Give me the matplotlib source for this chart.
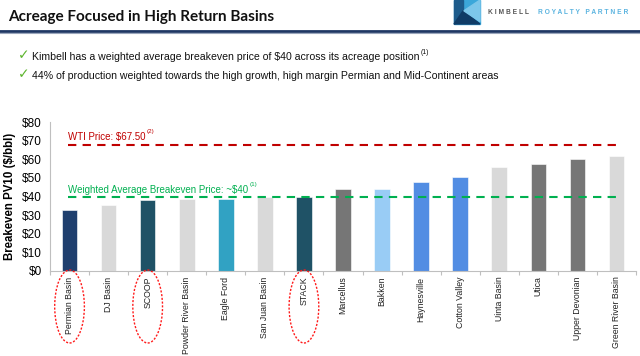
import matplotlib
matplotlib.use("Agg")
import matplotlib.pyplot as plt
import numpy as np
from matplotlib.patches import Ellipse, Polygon, Rectangle
from matplotlib.transforms import blended_transform_factory

# ---------------------------------------------------------------------------
# data
# ---------------------------------------------------------------------------
basins = ["Permian Basin", "DJ Basin", "SCOOP", "Powder River Basin", "Eagle Ford",
          "San Juan Basin", "STACK", "Marcellus", "Bakken", "Haynesville",
          "Cotton Valley", "Uinta Basin", "Utica", "Upper Devonian", "Green River Basin"]
breakeven = [33.0, 35.2, 37.9, 38.6, 38.6, 39.5, 39.8, 43.8, 43.9, 47.7,
             50.4, 55.9, 57.2, 59.9, 61.5]
bar_colors = ["#1F3F6E", "#D9D9D9", "#1F5266", "#D9D9D9", "#31A2C3",
              "#D9D9D9", "#1F5266", "#767676", "#99CCF5", "#528DE3",
              "#528DE3", "#D9D9D9", "#767676", "#767676", "#D9D9D9"]
highlighted = ["Permian Basin", "SCOOP", "STACK"]

wti_price = 67.50
avg_breakeven = 40.0
y_ticks = [0, 10, 20, 30, 40, 50, 60, 70, 80]

title = "Acreage Focused in High Return Basins"
bullets = ["Kimbell has a weighted average breakeven price of $40 across its acreage position",
           "44% of production weighted towards the high growth, high margin Permian and Mid-Continent areas"]
bullet_notes = ["(1)", ""]

FONT = "Liberation Sans"
W, H = 640, 356
fig = plt.figure(figsize=(W / 100, H / 100), dpi=100)
fig.patch.set_facecolor("white")

# ---------------------------------------------------------------------------
# header
# ---------------------------------------------------------------------------
fig.text(8 / W, 1 - 17.5 / H, title, fontsize=11.0, fontweight="bold",
         family="Lato", color="#111111", va="center", ha="left")
fig.add_artist(plt.Line2D([0, 1], [1 - 30.5 / H] * 2, color="#1F3864", lw=2.0))
fig.add_artist(plt.Line2D([0, 1], [1 - 32.5 / H] * 2, color="#9AA6BC", lw=0.8))

# logo
lx0, ly0, lw_, lh_ = 454 / W, 1 - 24 / H, 26 / W, 24 / H
def _pt(u, v):
    return (lx0 + u * lw_, ly0 + v * lh_)
fig.add_artist(Rectangle((lx0, ly0), lw_, lh_, color="#3BA7DA", transform=fig.transFigure))
fig.add_artist(Polygon([_pt(0, 0), _pt(0, 1), _pt(0.35, 1), _pt(0.35, 0.55)],
                       color="#1D5C8C", transform=fig.transFigure))
fig.add_artist(Polygon([_pt(0.35, 0.55), _pt(0, 0), _pt(1, 0)],
                       color="#0F3B66", transform=fig.transFigure))
fig.add_artist(Polygon([_pt(0.38, 0.55), _pt(1, 1), _pt(1, 0.1)],
                       color="#7CC6EA", transform=fig.transFigure))
fig.text(488 / W, 1 - 13 / H, "K I M B E L L", fontsize=4.8, fontweight="bold",
         family=FONT, color="#555555", va="center", ha="left")
fig.text(538 / W, 1 - 13 / H, "R O Y A L T Y   P A R T N E R", fontsize=4.8,
         fontweight="bold", family=FONT, color="#5BB4E0", va="center", ha="left")

# bullets
renderer = fig.canvas.get_renderer()
for i, (b, note) in enumerate(zip(bullets, bullet_notes)):
    yc = 1 - (57 + 19 * i) / H
    fig.text(18 / W, yc + 2 / H, "\u2713", fontsize=10, color="#5DB52E",
             family="DejaVu Sans", va="center", ha="left", fontweight="bold")
    t = fig.text(32 / W, yc, b, fontsize=7.6, family=FONT,
                 color="#111111", va="center", ha="left")
    if note:
        bb = t.get_window_extent(renderer)
        fig.text(bb.x1 / W + 1 / W, yc + 4 / H, note, fontsize=5,
                 family=FONT, color="#111111", va="center", ha="left")

# ---------------------------------------------------------------------------
# chart
# ---------------------------------------------------------------------------
ax = fig.add_axes([50 / W, 1 - 271 / H, 586 / W, 149 / H])
x = np.arange(len(basins))
ax.bar(x, breakeven, width=0.4, color=bar_colors, edgecolor="white",
       linewidth=0.4, zorder=2)

ax.set_xlim(-0.5, len(basins) - 0.5)
ax.set_ylim(0, 80)
ax.set_yticks(y_ticks)
ax.set_yticklabels([f"${v}" for v in y_ticks], fontsize=8.5, family=FONT)
ax.tick_params(axis="y", length=0, pad=6)
ax.set_xticks(x)
ax.set_xticklabels(basins, rotation=90, fontsize=6.3, family=FONT,
                   color="#222222", va="top")
ax.set_xticks(np.arange(-0.5, len(basins)), minor=True)
ax.tick_params(axis="x", which="major", length=0, pad=4)
ax.tick_params(axis="x", which="minor", length=3, color="#BFBFBF", width=0.8)
for s in ("top", "right"):
    ax.spines[s].set_visible(False)
for s in ("left", "bottom"):
    ax.spines[s].set_color("#BFBFBF")
    ax.spines[s].set_linewidth(0.8)
ax.set_ylabel("Breakeven PV10 ($/bbl)", fontsize=8.3, fontweight="bold",
              family=FONT, labelpad=4)

# reference lines
ax.hlines(wti_price, -0.05, len(basins) - 1, colors="#C00000", linestyles=(0, (4, 3)),
          lw=1.5, zorder=3)
ax.hlines(avg_breakeven, -0.05, len(basins) - 1, colors="#00B050", linestyles=(0, (4, 3)),
          lw=1.5, zorder=3)
t1 = ax.text(-0.05, 72.0, f"WTI Price: ${wti_price:.2f}", fontsize=7,
             family=FONT, color="#C00000", va="center", ha="left")
t2 = ax.text(-0.05, 43.5, f"Weighted Average Breakeven Price: ~${avg_breakeven:.0f}",
             fontsize=7, family=FONT, color="#00B050", va="center", ha="left")
for t, note in ((t1, "(2)"), (t2, "(1)")):
    bb = t.get_window_extent(renderer)
    fig.text(bb.x1 / W + 2 / W, bb.y1 / H, note, fontsize=4.5,
             family=FONT, color=t.get_color(), va="center", ha="left")

# highlighted basin labels
trans = blended_transform_factory(ax.transData, fig.transFigure)
for name in highlighted:
    i = basins.index(name)
    e = Ellipse((i, 1 - 306.5 / H), 0.76, 73 / H, transform=trans, fill=False,
                edgecolor="#FF1A1A", linestyle=(0, (1.5, 1.2)), lw=1.0, clip_on=False)
    fig.add_artist(e)

fig.savefig("out.png", dpi=100)
